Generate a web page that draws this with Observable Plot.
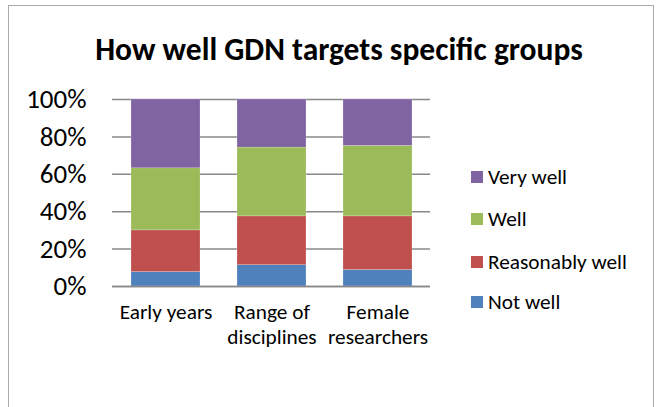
<!DOCTYPE html>
<html><head><meta charset="utf-8">
<script src="https://cdn.jsdelivr.net/npm/d3@7"></script>
<script src="https://cdn.jsdelivr.net/npm/@observablehq/plot@0.6"></script>
<style>
body{margin:0;background:#fff;font-family:Carlito,"Open Sans",sans-serif;}
#wrap{position:relative;width:663px;height:407px;overflow:hidden;}
#border{position:absolute;left:8px;top:5px;width:646px;height:420px;border:1px solid #aaa;box-sizing:border-box;}
#title{position:absolute;left:0;width:678px;top:30px;text-align:center;font-weight:bold;font-size:31.5px;line-height:38px;color:#000;white-space:nowrap;}
#chart{position:absolute;left:0;top:0;}
#legend{position:absolute;left:471px;top:0;font-size:21.3px;line-height:26px;color:#000;}
.li{position:absolute;left:0;white-space:nowrap;display:flex;align-items:center;}
.sw{width:12px;height:12px;margin-right:5px;display:inline-block;}
</style></head>
<body>
<div id="wrap"><div id="border"></div><div id="title">How well GDN targets specific groups</div><div id="chart"></div><div id="legend"></div></div>
<script>
const categories = ["Early years", "Range of\ndisciplines", "Female\nresearchers"];
const seriesNames = ["Not well", "Reasonably well", "Well", "Very well"];
const colors = ["#4F81BD", "#C0504D", "#9BBB59", "#8064A2"];
const notWell = [7.7, 11.4, 8.8];
const reasonablyWell = [22.3, 26.1, 28.7];
const well = [33.2, 36.8, 37.7];
const veryWell = [36.8, 25.7, 24.8];
const yTicks = [0, 20, 40, 60, 80, 100];

const seriesValues = [notWell, reasonablyWell, well, veryWell];
const data = [];
seriesNames.forEach((s, si) => categories.forEach((c, ci) => data.push({category: c, series: s, value: seriesValues[si][ci]})));

const plot = Plot.plot({
  width: 450, height: 360,
  marginLeft: 112, marginRight: 20, marginTop: 99, marginBottom: 74,
  style: {fontFamily: 'Carlito,"Open Sans",sans-serif', background: "transparent", color: "#000"},
  x: {domain: categories, paddingInner: 0.35, paddingOuter: 0.175, label: null},
  y: {domain: [0, 100], label: null},
  color: {domain: seriesNames, range: colors},
  marks: [
    Plot.gridY(yTicks, {stroke: "#888", strokeOpacity: 1, strokeWidth: 1.5}),
    Plot.barY(data, {x: "category", y: "value", fill: "series", order: seriesNames, stroke: "#fff", strokeOpacity: 0.4, strokeWidth: 0.5}),
    Plot.ruleX([0], {frameAnchor: "left", stroke: "#888", strokeWidth: 1.5}),
    Plot.ruleY([0], {stroke: "#888", strokeWidth: 1.5}),
    Plot.axisY({ticks: yTicks, tickFormat: d => d + "%", tickSize: 0, tickPadding: 26, fontSize: 27}),
    Plot.axisX({tickSize: 0, tickPadding: 15, fontSize: 21.3, lineHeight: 1.17})
  ]
});
document.getElementById("chart").appendChild(plot);

const legend = document.getElementById("legend");
const tops = {"Very well": 164, "Well": 206, "Reasonably well": 249, "Not well": 289};
seriesNames.slice().reverse().forEach(s => {
  const d = document.createElement("div");
  d.className = "li";
  d.style.top = tops[s] + "px";
  const sw = document.createElement("span");
  sw.className = "sw";
  sw.style.background = colors[seriesNames.indexOf(s)];
  d.appendChild(sw);
  d.appendChild(document.createTextNode(s));
  legend.appendChild(d);
});
</script>
</body></html>
